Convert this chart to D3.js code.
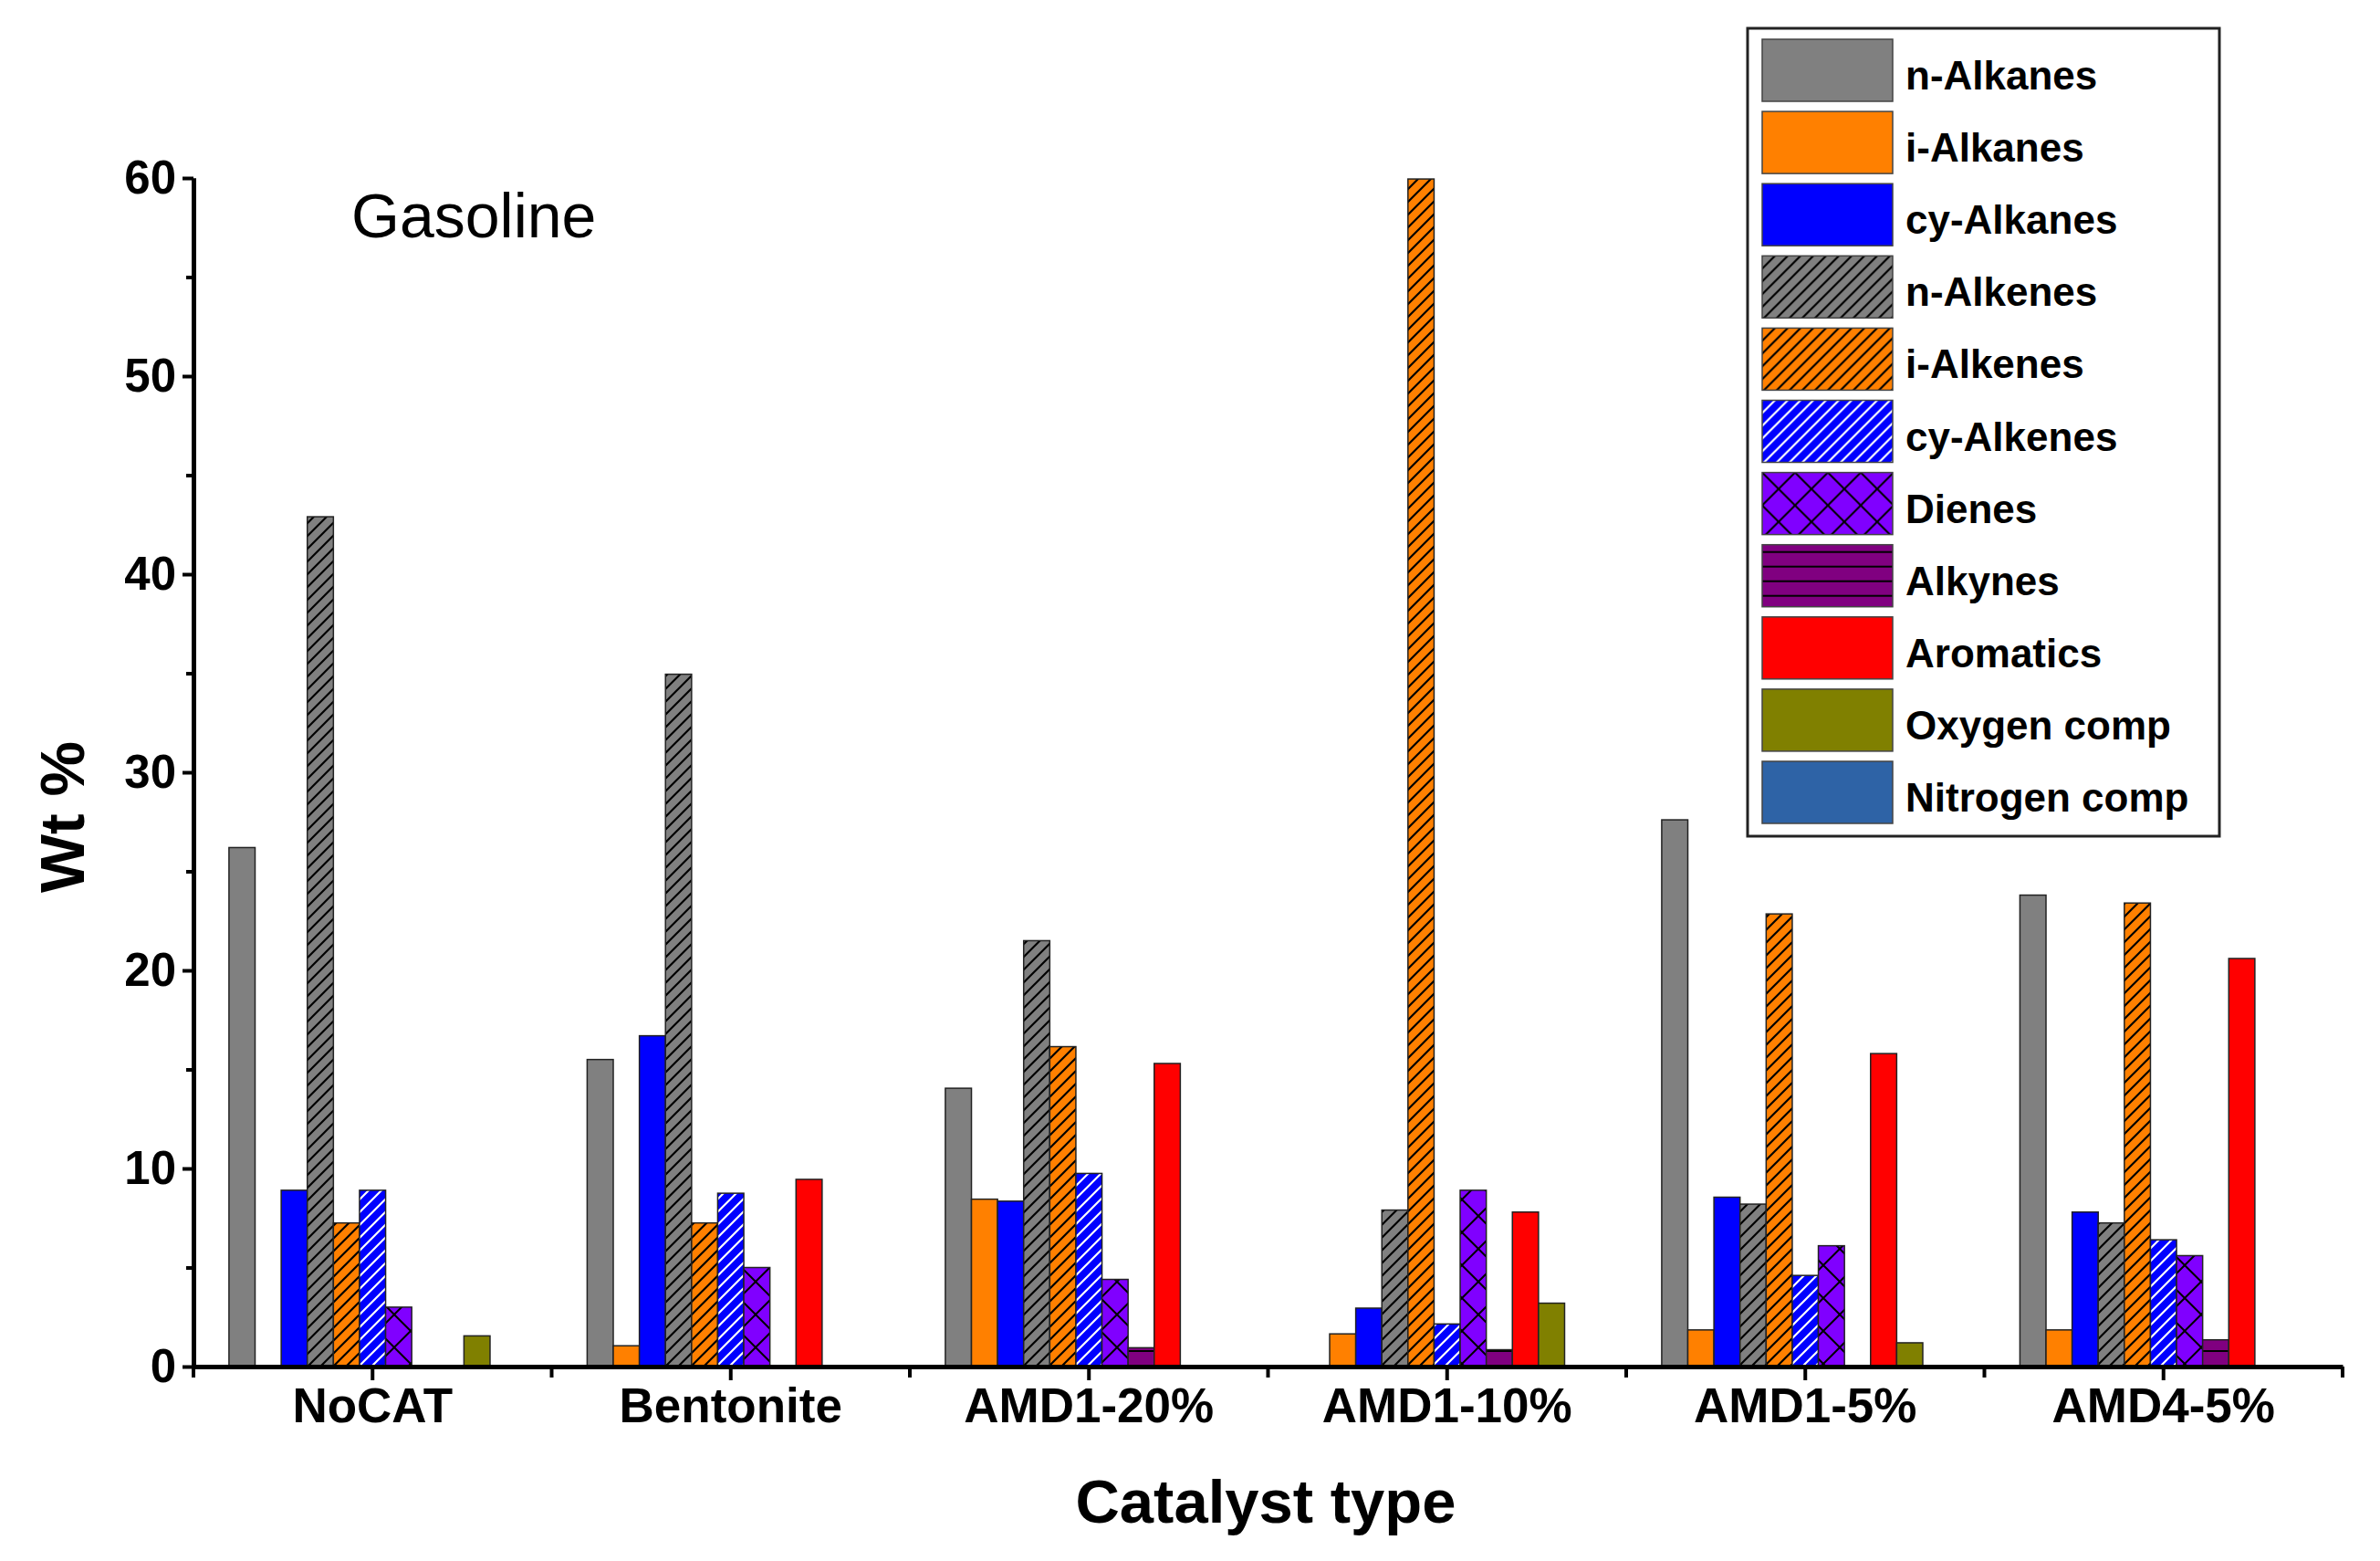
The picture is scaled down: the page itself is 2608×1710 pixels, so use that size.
<!DOCTYPE html>
<html lang="en">
<head>
    <meta charset="UTF-8">
    <title>Gasoline composition</title>
    <script src="https://d3js.org/d3.v7.min.js"></script>
</head>
<body style="margin:0;background:#fff">
<svg width="2608" height="1710"></svg>
<style>
    text { font-family: "Liberation Sans", Arial, sans-serif; fill: #000; }
    .axis path, .axis line { stroke: #000; }
    .axis path { stroke-width: 5px; }
    .axis line { stroke-width: 4px; }
    .bar { stroke: #222; stroke-width: 1.5px; }
</style>
<script>
    // data (wt %)
    var catalysts = ["NoCAT", "Bentonite", "AMD1-20%", "AMD1-10%", "AMD1-5%", "AMD4-5%"];
    var groups = ["n-Alkanes", "i-Alkanes", "cy-Alkanes", "n-Alkenes", "i-Alkenes", "cy-Alkenes",
        "Dienes", "Alkynes", "Aromatics", "Oxygen comp", "Nitrogen comp"];

    var nAlkanes   = [26.2, 15.5, 14.05, 0, 27.6, 23.8];
    var iAlkanes   = [0, 1.05, 8.45, 1.65, 1.85, 1.85];
    var cyAlkanes  = [8.9, 16.7, 8.35, 2.95, 8.55, 7.8];
    var nAlkenes   = [42.9, 34.95, 21.5, 7.9, 8.2, 7.25];
    var iAlkenes   = [7.25, 7.25, 16.15, 59.95, 22.85, 23.4];
    var cyAlkenes  = [8.9, 8.75, 9.75, 2.15, 4.6, 6.4];
    var dienes     = [3.0, 5.0, 4.4, 8.9, 6.1, 5.6];
    var alkynes    = [0, 0, 0.95, 0.85, 0, 1.35];
    var aromatics  = [0, 9.45, 15.3, 7.8, 15.8, 20.6];
    var oxygenComp = [1.55, 0, 0, 3.2, 1.2, 0];
    var nitrogenComp = [0, 0, 0, 0, 0, 0];

    var yTicks = [0, 10, 20, 30, 40, 50, 60];
    var yMinor = [5, 15, 25, 35, 45, 55];

    var seriesValues = [nAlkanes, iAlkanes, cyAlkanes, nAlkenes, iAlkenes, cyAlkenes,
        dienes, alkynes, aromatics, oxygenComp, nitrogenComp];
    var fills = ["#808080", "#FF8000", "#0000FF", "url(#hGray)", "url(#hOrange)", "url(#hBlue)",
        "url(#xPurple)", "url(#lPurple)", "#FF0000", "#808000", "#2E63A6"];

    var svg = d3.select("svg");
    var defs = svg.append("defs");

    function diagPattern(id, bg, line) {
        var p = defs.append("pattern").attr("id", id).attr("patternUnits", "userSpaceOnUse")
            .attr("width", 14).attr("height", 14);
        p.append("rect").attr("width", 14).attr("height", 14).attr("fill", bg);
        p.append("path").attr("d", "M-2,2 l4,-4 M0,14 l14,-14 M12,16 l4,-4")
            .attr("stroke", line).attr("stroke-width", 2.2);
    }
    diagPattern("hGray", "#808080", "#000");
    diagPattern("hOrange", "#FF8000", "#000");
    diagPattern("hBlue", "#0000FF", "#fff");

    var xp = defs.append("pattern").attr("id", "xPurple").attr("patternUnits", "userSpaceOnUse")
        .attr("width", 36).attr("height", 36);
    xp.append("rect").attr("width", 36).attr("height", 36).attr("fill", "#8000FF");
    xp.append("path").attr("d", "M0,0 L36,36 M36,0 L0,36").attr("stroke", "#000").attr("stroke-width", 2);

    var lp = defs.append("pattern").attr("id", "lPurple").attr("patternUnits", "userSpaceOnUse")
        .attr("width", 16).attr("height", 16);
    lp.append("rect").attr("width", 16).attr("height", 16).attr("fill", "#800080");
    lp.append("path").attr("d", "M0,8 L16,8").attr("stroke", "#000").attr("stroke-width", 2);

    var x0 = d3.scaleBand().domain(catalysts).range([212, 2567]).padding(0);
    var x1 = d3.scaleBand().domain(groups).range([0, x0.bandwidth()])
        .paddingInner(0).paddingOuter(1.36);
    var y = d3.scaleLinear().domain([0, 60]).range([1497, 195]);

    // bars
    var cells = [];
    catalysts.forEach(function (c, ci) {
        groups.forEach(function (g, gi) {
            var v = seriesValues[gi][ci];
            if (v > 0) cells.push({cat: c, grp: g, gi: gi, value: v});
        });
    });
    svg.append("g").selectAll("rect")
        .data(cells)
        .enter()
        .append("rect")
        .attr("class", "bar")
        .attr("x", d => x0(d.cat) + x1(d.grp))
        .attr("width", x1.bandwidth())
        .attr("y", d => y(d.value))
        .attr("height", d => y(0) - y(d.value))
        .attr("fill", d => fills[d.gi]);

    // y axis
    svg.append("g").attr("class", "axis").attr("transform", "translate(212,0)")
        .call(d3.axisLeft(y).tickValues(yMinor).tickSize(8).tickSizeOuter(0).tickFormat(""));
    var ya = svg.append("g").attr("class", "axis").attr("transform", "translate(212,0)")
        .call(d3.axisLeft(y).tickValues(yTicks).tickSize(12).tickSizeOuter(0).tickPadding(7));
    ya.selectAll("text").style("font-size", "51px").style("font-weight", "bold");

    // x axis
    var xa = svg.append("g").attr("class", "axis").attr("transform", "translate(0,1497)")
        .call(d3.axisBottom(x0).tickSize(15).tickSizeOuter(0).tickPadding(8));
    xa.selectAll("text").style("font-size", "53px").style("font-weight", "bold");
    var bounds = catalysts.map(c => x0(c)).concat([x0.range()[1]]);
    xa.selectAll("line.minor").data(bounds).enter().append("line")
        .attr("class", "minor")
        .attr("x1", d => d).attr("x2", d => d)
        .attr("y1", 0).attr("y2", 12);

    // axis titles
    svg.append("text").attr("x", 1387).attr("y", 1668)
        .attr("text-anchor", "middle").style("font-size", "67px").style("font-weight", "bold")
        .text("Catalyst type");
    svg.append("text").attr("transform", "translate(92,895) rotate(-90)")
        .attr("text-anchor", "middle").style("font-size", "68px").style("font-weight", "bold")
        .text("Wt %");
    svg.append("text").attr("x", 385).attr("y", 260)
        .style("font-size", "68px")
        .text("Gasoline");

    // legend
    var lg = svg.append("g");
    lg.append("rect").attr("x", 1915).attr("y", 31).attr("width", 517).attr("height", 885)
        .attr("fill", "#fff").attr("stroke", "#222").attr("stroke-width", 3);
    var items = lg.selectAll("g.item").data(groups).enter().append("g")
        .attr("transform", (d, i) => "translate(1931," + (43 + i * 79.1) + ")");
    items.append("rect").attr("width", 143).attr("height", 68)
        .attr("fill", (d, i) => fills[i]).attr("stroke", "#444").attr("stroke-width", 1.5);
    items.append("text").attr("x", 157).attr("y", 55)
        .style("font-size", "44px").style("font-weight", "bold")
        .text(d => d);
</script>
</body>
</html>
